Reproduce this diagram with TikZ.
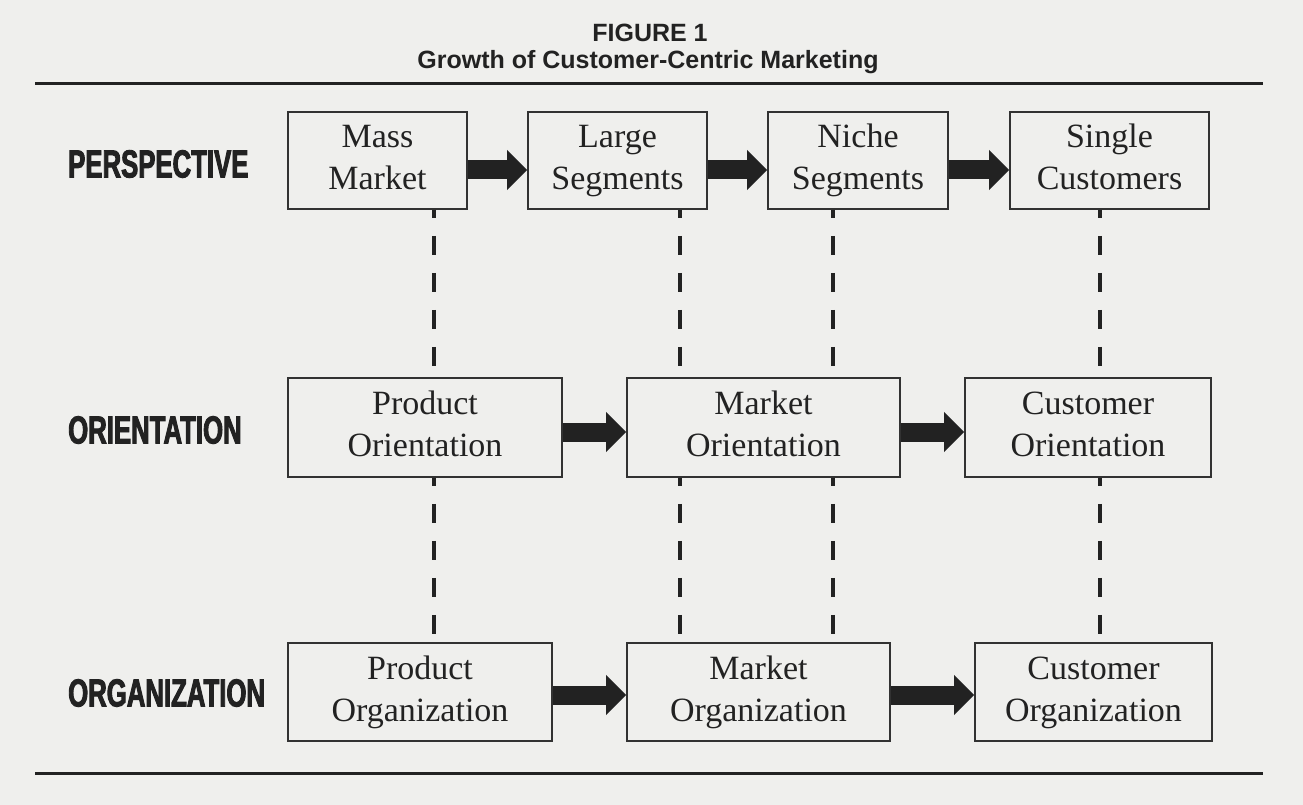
\documentclass[tikz,border=0pt]{standalone}
\usepackage{fontspec}
\setmainfont{Liberation Serif}
\newfontfamily\titlefont[BoldFont={Liberation Sans Bold}]{Liberation Sans}
\newfontfamily\condfont[FakeStretch=0.66,FakeBold=2.4]{Liberation Sans Bold}
\usetikzlibrary{arrows.meta}
\definecolor{bgcol}{RGB}{239,239,237}
\definecolor{ink}{RGB}{34,34,34}
\definecolor{boxline}{RGB}{50,50,50}
\newcommand{\twoline}[2]{\strut #1\\\strut #2}
\begin{document}
\begin{tikzpicture}[x=1pt,y=-1pt,
  box/.style={draw=boxline,line width=1.8pt,inner sep=0pt,align=center,
    text=ink,font=\fontsize{34}{42}\selectfont},
  rowlabel/.style={anchor=west,inner sep=0pt,text=ink,font=\condfont\fontsize{39}{40}\selectfont},
  blockarrow/.style={draw=ink,line width=19pt,-{Triangle[length=20pt,width=39pt]}},
  dashline/.style={draw=ink,line width=4pt,dash pattern=on 19pt off 18pt,dash phase=11pt},
  rule/.style={draw=ink,line width=3pt}]
\fill[bgcol] (0,0) rectangle (1303,805);
% title
\node[text=ink,font=\titlefont\bfseries\fontsize{25}{28}\selectfont] (fig) at (650,33) {FIGURE 1};
\node[text=ink,font=\titlefont\bfseries\fontsize{25}{28}\selectfont] (ttl) at (648,62) {Growth of Customer-Centric Marketing};
\coordinate (rl1) at (35,84);
\coordinate (rr1) at (1263,84);
\coordinate (rl2) at (35,773);
\coordinate (rr2) at (1263,773);
\draw[rule] (rl1) -- (rr1);
\draw[rule] (rl2) -- (rr2);
% row labels
\node[rowlabel] (lp) at (68,164) {PERSPECTIVE};
\node[rowlabel] (lo) at (68,430) {ORIENTATION};
\node[rowlabel] (lg) at (68,693) {ORGANIZATION};
% row 1
\node[box,minimum width=179pt,minimum height=97pt] (mm) at (377.5,160.5) {\twoline{Mass}{Market}};
\node[box,minimum width=179pt,minimum height=97pt] (ls) at (617.5,160.5) {\twoline{Large}{Segments}};
\node[box,minimum width=180pt,minimum height=97pt] (ns) at (858,160.5) {\twoline{Niche}{Segments}};
\node[box,minimum width=199pt,minimum height=97pt] (sc) at (1109.5,160.5) {\twoline{Single}{Customers}};
% row 2
\node[box,minimum width=274pt,minimum height=99pt] (po) at (425,427.5) {\twoline{Product}{Orientation}};
\node[box,minimum width=273pt,minimum height=99pt] (mo) at (763.5,427.5) {\twoline{Market}{Orientation}};
\node[box,minimum width=246pt,minimum height=99pt] (co) at (1088,427.5) {\twoline{Customer}{Orientation}};
% row 3
\node[box,minimum width=264pt,minimum height=98pt] (pg) at (420,692) {\twoline{Product}{Organization}};
\node[box,minimum width=263pt,minimum height=98pt] (mg) at (758.5,692) {\twoline{Market}{Organization}};
\node[box,minimum width=237pt,minimum height=98pt] (cg) at (1093.5,692) {\twoline{Customer}{Organization}};
% arrows
\draw[blockarrow] (mm.east |- 0,170) -- (ls.west |- 0,170);
\draw[blockarrow] (ls.east |- 0,170) -- (ns.west |- 0,170);
\draw[blockarrow] (ns.east |- 0,170) -- (sc.west |- 0,170);
\draw[blockarrow] (po.east |- 0,432) -- (mo.west |- 0,432);
\draw[blockarrow] (mo.east |- 0,432) -- (co.west |- 0,432);
\draw[blockarrow] (pg.east |- 0,695) -- (mg.west |- 0,695);
\draw[blockarrow] (mg.east |- 0,695) -- (cg.west |- 0,695);
% dashed links
\coordinate (d1) at (434,0);
\coordinate (d2) at (680,0);
\coordinate (d3) at (833,0);
\coordinate (d4) at (1100,0);
\draw[dashline] (mm.south -| d1) -- (po.north -| d1);
\draw[dashline] (ls.south -| d2) -- (mo.north -| d2);
\draw[dashline] (ns.south -| d3) -- (mo.north -| d3);
\draw[dashline] (sc.south -| d4) -- (co.north -| d4);
\draw[dashline] (po.south -| d1) -- (pg.north -| d1);
\draw[dashline] (mo.south -| d2) -- (mg.north -| d2);
\draw[dashline] (mo.south -| d3) -- (mg.north -| d3);
\draw[dashline] (co.south -| d4) -- (cg.north -| d4);
\end{tikzpicture}
\end{document}
